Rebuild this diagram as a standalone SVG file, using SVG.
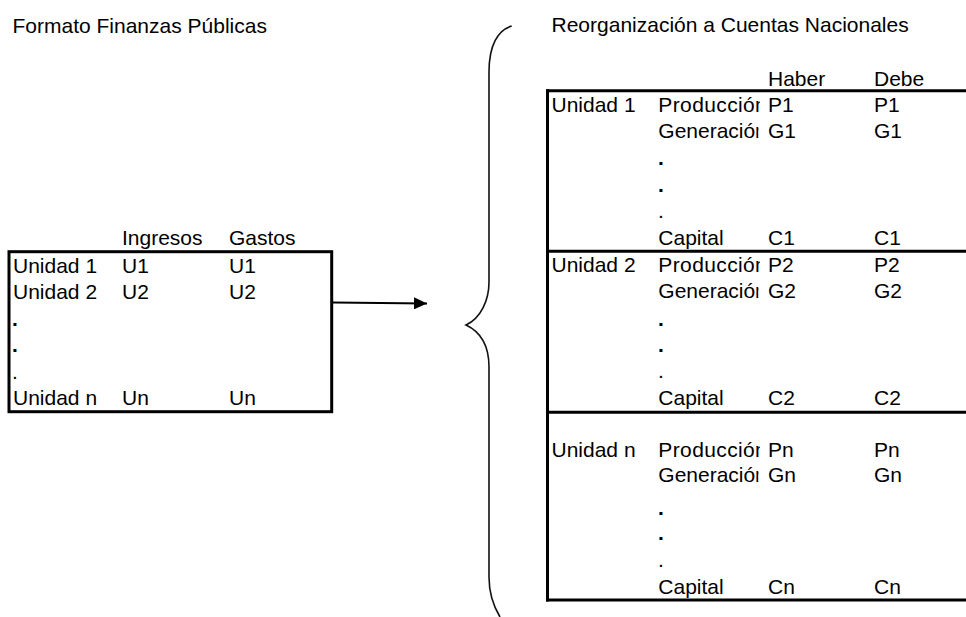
<svg xmlns="http://www.w3.org/2000/svg" width="966" height="617" viewBox="0 0 966 617">
<defs>
<style>
text{font-family:"Liberation Sans",Arial,sans-serif;font-size:21px;fill:#000}
.dot{font-weight:bold}
.frame{fill:none;stroke:#000;stroke-width:3}
.rule{stroke:#000;stroke-width:3}
.brace{fill:none;stroke:#111;stroke-width:1.6}
.conn{stroke:#000;stroke-width:1.8;fill:none}
</style>
<marker id="ah" markerWidth="14" markerHeight="12" refX="13" refY="6" orient="auto" markerUnits="userSpaceOnUse">
<path d="M0,0 L13,6 L0,12 Z" fill="#000"/>
</marker>
<clipPath id="cellclip"><rect x="600" y="0" width="160" height="617"/></clipPath>
<clipPath id="cellclip2"><rect x="600" y="0" width="158.5" height="617"/></clipPath>
</defs>
<rect x="0" y="0" width="966" height="617" fill="#fff"/>

<g id="title-left"><text x="12.5" y="32.7">Formato Finanzas Públicas</text></g>
<g id="title-right"><text x="551.5" y="31.7">Reorganización a Cuentas Nacionales</text></g>

<g id="table-left">
<rect class="frame" x="9" y="251.7" width="322.7" height="160"/>
<text x="122" y="245">Ingresos</text>
<text x="229" y="245">Gastos</text>
<text x="13" y="273.3">Unidad 1</text><text x="122" y="273.3">U1</text><text x="229" y="273.3">U1</text>
<text x="13" y="299.3">Unidad 2</text><text x="122" y="299.3">U2</text><text x="229" y="299.3">U2</text>
<text class="dot" x="12" y="325.7">.</text>
<text class="dot" x="12" y="352">.</text>
<text x="12" y="378.5">.</text>
<text x="13" y="405">Unidad n</text><text x="122" y="405">Un</text><text x="229" y="405">Un</text>
</g>

<g id="brace">
<path class="brace" d="M511.7,26 C498,30 489,45 489,72 L489,282 C489,300 481,318 466,325 C481,332 489,347 489,367 L489,577 C489,595 494,607 500,617"/>
</g>

<g id="table-right">
<line class="rule" x1="547.5" y1="89.2" x2="547.5" y2="601.5"/>
<line class="rule" x1="546" y1="90.7" x2="966" y2="90.7"/>
<line class="rule" x1="546" y1="251.2" x2="966" y2="251.2"/>
<line class="rule" x1="546" y1="412.3" x2="966" y2="412.3"/>
<line class="rule" x1="546" y1="600" x2="966" y2="600"/>
<text x="768" y="86">Haber</text>
<text x="874" y="86">Debe</text>

<g id="unidad-1">
<text x="551.5" y="111.7">Unidad 1</text>
<text x="658.3" y="111.7" clip-path="url(#cellclip)" textLength="108.5" lengthAdjust="spacing">Producción</text>
<text x="768" y="111.7">P1</text><text x="874" y="111.7">P1</text>
<text x="658.3" y="138.3" clip-path="url(#cellclip2)" textLength="108.5" lengthAdjust="spacing">Generación</text>
<text x="768" y="138.3">G1</text><text x="874" y="138.3">G1</text>
<text class="dot" x="658" y="165">.</text>
<text class="dot" x="658" y="191.7">.</text>
<text x="658" y="217.5">.</text>
<text x="658.3" y="244.5">Capital</text><text x="768" y="244.5">C1</text><text x="874" y="244.5">C1</text>
</g>

<g id="unidad-2">
<text x="551.5" y="272">Unidad 2</text>
<text x="658.3" y="272" clip-path="url(#cellclip)" textLength="108.5" lengthAdjust="spacing">Producción</text>
<text x="768" y="272">P2</text><text x="874" y="272">P2</text>
<text x="658.3" y="298.4" clip-path="url(#cellclip2)" textLength="108.5" lengthAdjust="spacing">Generación</text>
<text x="768" y="298.4">G2</text><text x="874" y="298.4">G2</text>
<text class="dot" x="658" y="326">.</text>
<text class="dot" x="658" y="351.7">.</text>
<text x="658" y="378.3">.</text>
<text x="658.3" y="405">Capital</text><text x="768" y="405">C2</text><text x="874" y="405">C2</text>
</g>

<g id="unidad-n">
<text x="551.5" y="457.3">Unidad n</text>
<text x="658.3" y="457.3" clip-path="url(#cellclip)" textLength="108.5" lengthAdjust="spacing">Producción</text>
<text x="768" y="457.3">Pn</text><text x="874" y="457.3">Pn</text>
<text x="658.3" y="482.3" clip-path="url(#cellclip2)" textLength="108.5" lengthAdjust="spacing">Generación</text>
<text x="768" y="482.3">Gn</text><text x="874" y="482.3">Gn</text>
<text class="dot" x="658" y="515">.</text>
<text class="dot" x="658" y="540">.</text>
<text x="658" y="566.7">.</text>
<text x="658.3" y="594">Capital</text><text x="768" y="594">Cn</text><text x="874" y="594">Cn</text>
</g>
</g>

<g id="connectors">
<line class="conn" x1="333" y1="302.5" x2="427" y2="303.5" marker-end="url(#ah)"/>
</g>
</svg>
